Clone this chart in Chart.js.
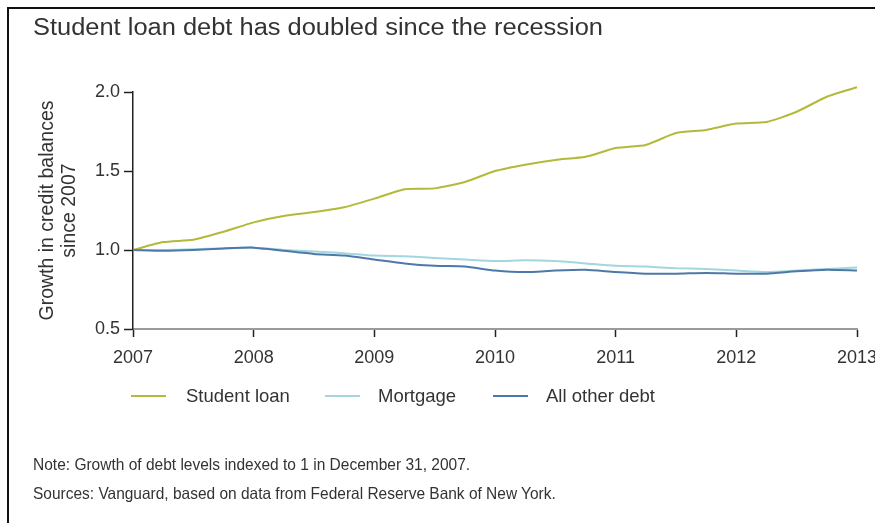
<!DOCTYPE html>
<html>
<head>
<meta charset="utf-8">
<script src="https://cdn.jsdelivr.net/npm/chart.js@4"></script>
<style>
  html, body { margin: 0; padding: 0; background: #fff; }
  #wrap { position: relative; width: 875px; height: 523px; overflow: hidden; font-family: "Liberation Sans", Arial, sans-serif; }
  #frame { position: absolute; left: 7px; top: 7px; right: -10px; bottom: -10px; border-left: 2px solid #111; border-top: 2px solid #111; }
  .fit { position: absolute; white-space: nowrap; transform-origin: 0 50%; color: #333; }
  #title { left: 33px; top: 12px; font-size: 23px; line-height: 30px; }
  .li { position: absolute; top: 384px; height: 24px; font-size: 18.5px; color: #333; white-space: nowrap; line-height: 24px; }
  .sw { position: absolute; top: 395px; height: 2px; width: 35px; }
  .note { left: 33px; font-size: 16.5px; line-height: 20px; }
  canvas { position: absolute; left: 0; top: 0; }
</style>
</head>
<body>
<div id="wrap">
  <canvas id="c" width="875" height="523"></canvas>
  <div id="frame"></div>
  <div id="title" class="fit" data-w="570">Student loan debt has doubled since the recession</div>
  <div id="legend"></div>
  <div class="note fit" data-w="437" style="top:454px">Note: Growth of debt levels indexed to 1 in December 31, 2007.</div>
  <div class="note fit" data-w="523" style="top:483px">Sources: Vanguard, based on data from Federal Reserve Bank of New York.</div>
</div>
<script>
// Quarterly periods (year fraction)
const periods = [2007, 2007.25, 2007.5, 2007.75, 2008, 2008.25, 2008.5, 2008.75, 2009, 2009.25, 2009.5, 2009.75,
                 2010, 2010.25, 2010.5, 2010.75, 2011, 2011.25, 2011.5, 2011.75, 2012, 2012.25, 2012.5, 2012.75, 2013];
const studentLoan = [1.00, 1.05, 1.065, 1.115, 1.175, 1.215, 1.24, 1.27, 1.325, 1.385, 1.39, 1.43,
                     1.50, 1.54, 1.57, 1.59, 1.645, 1.665, 1.74, 1.76, 1.80, 1.81, 1.875, 1.97, 2.03];
const mortgage = [1.00, 1.00, 1.005, 1.01, 1.015, 1.00, 0.99, 0.98, 0.965, 0.96, 0.95, 0.94,
                  0.93, 0.935, 0.93, 0.915, 0.90, 0.895, 0.885, 0.88, 0.87, 0.86, 0.87, 0.88, 0.89];
const otherDebt = [1.00, 0.995, 1.00, 1.01, 1.015, 0.995, 0.975, 0.965, 0.94, 0.915, 0.90, 0.895,
                   0.87, 0.86, 0.87, 0.875, 0.86, 0.85, 0.85, 0.855, 0.85, 0.85, 0.865, 0.875, 0.87];
const seriesNames = ['Student loan', 'Mortgage', 'All other debt'];
const seriesColors = ['#b4b93a', '#a3d6df', '#4d79a8'];
const yTicks = [0.5, 1.0, 1.5, 2.0];
const xTicks = [2007, 2008, 2009, 2010, 2011, 2012, 2013];

const seriesData = [studentLoan, mortgage, otherDebt];
const datasets = seriesData.map((vals, i) => ({
  label: seriesNames[i],
  data: vals.map((v, j) => ({ x: periods[j], y: v })),
  borderColor: seriesColors[i],
  borderWidth: 2,
  pointRadius: 0,
  tension: 0.2,
  clip: false,
  fill: false
}));

new Chart(document.getElementById('c'), {
  type: 'line',
  data: { datasets: datasets.slice().reverse() },
  options: {
    responsive: false,
    animation: false,
    layout: { padding: { top: 92, right: 18, left: 0, bottom: 0 } },
    plugins: { legend: { display: false }, tooltip: { enabled: false }, title: { display: false } },
    scales: {
      x: {
        type: 'linear', min: 2007, max: 2013,
        afterBuildTicks: s => { s.ticks = xTicks.map(v => ({ value: v })); },
        afterFit: s => { s.height = 523 - 329; s.paddingRight = 0; s.paddingLeft = 0; },
        ticks: { color: '#333', font: { family: 'Liberation Sans', size: 18 }, padding: 10, callback: v => String(v), maxRotation: 0 },
        grid: { drawOnChartArea: false, tickLength: 8, tickColor: '#222', tickWidth: 1.5 },
        border: { color: '#9a9a9a', width: 2 }
      },
      y: {
        type: 'linear', min: 0.5, max: 2.0,
        afterBuildTicks: s => { s.ticks = yTicks.map(v => ({ value: v })); },
        afterFit: s => { s.width = 133; s.paddingTop = 0; s.paddingBottom = 0; },
        ticks: { color: '#333', font: { family: 'Liberation Sans', size: 18 }, padding: 4, callback: v => v.toFixed(1) },
        grid: { drawOnChartArea: false, tickLength: 9, tickColor: '#222', tickWidth: 1.5 },
        border: { color: '#222', width: 1.5 },
        title: { display: true, text: ['Growth in credit balances', 'since 2007'], color: '#333',
                 font: { family: 'Liberation Sans', size: 19.5, lineHeight: 1.13 }, padding: { top: 37, bottom: 0 } }
      }
    }
  }
});

// Legend built from series
const legendPos = [{ sw: 131, tx: 186 }, { sw: 325, tx: 378 }, { sw: 493, tx: 546 }];
const wrap = document.getElementById('wrap');
seriesNames.forEach((n, i) => {
  const s = document.createElement('div');
  s.className = 'sw'; s.style.left = legendPos[i].sw + 'px'; s.style.background = seriesColors[i];
  wrap.appendChild(s);
  const t = document.createElement('div');
  t.className = 'li'; t.style.left = legendPos[i].tx + 'px'; t.textContent = n;
  wrap.appendChild(t);
});

// Fit text widths to the reference layout
document.querySelectorAll('.fit').forEach(el => {
  const target = parseFloat(el.dataset.w);
  const w = el.getBoundingClientRect().width;
  if (w > 0) el.style.transform = 'scaleX(' + (target / w).toFixed(3) + ')';
});
</script>
</body>
</html>
